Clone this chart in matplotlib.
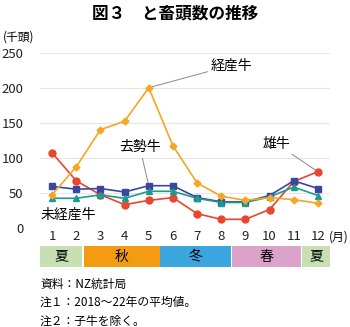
import matplotlib.pyplot as plt
from matplotlib.patches import Rectangle

plt.rcParams['font.family'] = ['Noto Sans CJK JP', 'DejaVu Sans']

months = list(range(1, 13))
month_labels = [str(m) for m in months]

keisan = [47, 87, 140, 152, 200, 117, 64, 45, 39, 43, 40, 35]      # 経産牛
oushi = [107, 67, 47, 33, 39, 43, 20, 12, 12, 26, 66, 80]          # 雄牛
kyosei = [59, 55, 56, 51, 60, 60, 43, 37, 37, 46, 67, 56]          # 去勢牛
mikeisan = [42, 42, 47, 42, 52, 52, 42, 36, 36, 44, 58, 46]        # 未経産牛

seasons = ['夏', '秋', '冬', '春', '夏']
season_start = [0.5, 2.3, 5.45, 8.45, 11.35]
season_end = [2.25, 5.45, 8.4, 11.3, 12.5]
season_colors = ['#c6e0b4', '#f39c12', '#3ba6dd', '#dba3c9', '#c6e0b4']

W, H = 350, 327
fig = plt.figure(figsize=(W / 100, H / 100), dpi=100)

ax = fig.add_axes([40 / W, 99.3 / H, 290 / W, 175 / H])
ax.set_xlim(0.5, 12.5)
ax.set_ylim(0, 250)
ax.set_yticks([0, 50, 100, 150, 200, 250])
ax.set_xticks(months)
ax.set_xticklabels(month_labels)
ax.tick_params(axis='both', length=0, labelsize=9.5, colors='#222222')
ax.tick_params(axis='y', pad=12)
ax.tick_params(axis='x', pad=2)
for s in ax.spines.values():
    s.set_visible(False)
ax.grid(axis='y', color='#e6e6e6', lw=0.8)
ax.set_axisbelow(True)

ax.plot(months, oushi, color='#e8462e', marker='o', ms=5, lw=1.2, zorder=3)
ax.plot(months, mikeisan, color='#1b9b8d', marker='^', ms=4.5, lw=1.2, zorder=4)
ax.plot(months, kyosei, color='#3a47a0', marker='s', ms=4.5, lw=1.2, zorder=3)
ax.plot(months, keisan, color='#f5a623', marker='D', ms=3.5, lw=1.2, zorder=5)

ax.annotate('経産牛', xy=(5, keisan[4]), xytext=(7.55, 232), fontsize=10,
            va='center', ha='left',
            arrowprops=dict(arrowstyle='-', color='#888888', lw=0.7,
                            shrinkA=0, shrinkB=2))
ax.annotate('去勢牛', xy=(5, kyosei[4]), xytext=(4.63, 115), fontsize=10,
            va='center', ha='center',
            arrowprops=dict(arrowstyle='-', color='#888888', lw=0.7,
                            shrinkA=1, shrinkB=2))
ax.annotate('雄牛', xy=(12, oushi[11]), xytext=(10.85, 120), fontsize=10,
            va='center', ha='right',
            arrowprops=dict(arrowstyle='-', color='#888888', lw=0.7,
                            shrinkA=1, shrinkB=2))
ax.text(1.66, 18, '未経産牛', fontsize=10, va='center', ha='center')

fig.text(3 / W, 1 - 37 / H, '(千頭)', fontsize=8.5, va='center', ha='left')
fig.text(329 / W, 1 - 237 / H, '(月)', fontsize=8.5, va='center', ha='left')

# season strip
sax = fig.add_axes([40 / W, (H - 267) / H, 290 / W, 21 / H])
sax.set_xlim(0.5, 12.5)
sax.set_ylim(0, 1)
sax.axis('off')
for name, x0, x1, c in zip(seasons, season_start, season_end, season_colors):
    sax.add_patch(Rectangle((x0, 0), x1 - x0, 1, color=c, lw=0))
    sax.text((x0 + x1) / 2, 0.5, name, fontsize=10, ha='center', va='center')

fig.text(175 / W, 1 - 13 / H, '図３　と畜頭数の推移', fontsize=12, fontweight='bold',
         ha='center', va='center')
notes = ['資料：NZ統計局', '注１：2018～22年の平均値。', '注２：子牛を除く。']
for i, t in enumerate(notes):
    fig.text(40 / W, 1 - (284 + 18.5 * i) / H, t, fontsize=8.5, ha='left', va='center')

fig.savefig('out.png', dpi=100)
